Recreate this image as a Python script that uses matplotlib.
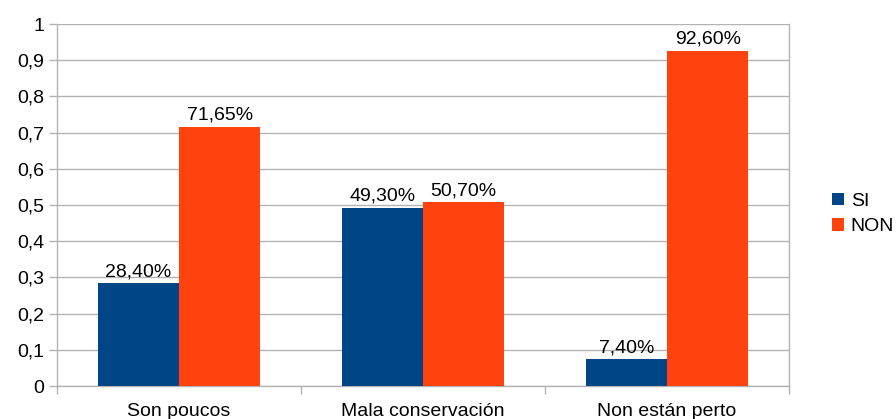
import numpy as np
import matplotlib
matplotlib.use('Agg')
import matplotlib.pyplot as plt
from matplotlib.ticker import FixedLocator

categories = ['Son poucos', 'Mala conservación', 'Non están perto']
si_values = [0.284, 0.493, 0.074]
non_values = [0.7165, 0.507, 0.926]
si_labels = ['28,40%', '49,30%', '7,40%']
non_labels = ['71,65%', '50,70%', '92,60%']
y_ticks = [0, 0.1, 0.2, 0.3, 0.4, 0.5, 0.6, 0.7, 0.8, 0.9, 1]

plt.rcParams['font.family'] = ['Liberation Sans', 'DejaVu Sans']
fs = 14

fig = plt.figure(figsize=(8.96, 4.19), dpi=100)
ax = fig.add_axes([57/896, 1-386/419, (789-57)/896, (386-24)/419])

x = np.arange(len(categories))
w = 1/3
b1 = ax.bar(x - w/2, si_values, w, color='#004586', label='SI', zorder=3)
b2 = ax.bar(x + w/2, non_values, w, color='#ff420e', label='NON', zorder=3)

# value labels above bars
for bars, labs in [(b1, si_labels), (b2, non_labels)]:
    for rect, lab in zip(bars, labs):
        ax.annotate(lab, (rect.get_x() + rect.get_width()/2, rect.get_height()),
                    xytext=(0, 5), textcoords='offset points',
                    ha='center', va='baseline', fontsize=fs, color='black')

ax.set_xlim(-0.5, 2.5)
ax.set_ylim(0, 1)
ax.set_yticks(y_ticks)
ax.set_yticklabels([('%g' % v).replace('.', ',') for v in y_ticks], fontsize=fs)
ax.yaxis.grid(True, color='#b3b3b3', linewidth=1, zorder=0)

ax.set_xticks(x)
ax.set_xticklabels(categories, fontsize=fs)
ax.tick_params(axis='x', which='major', length=0, pad=12)
ax.xaxis.set_minor_locator(FixedLocator([-0.5, 0.5, 1.5, 2.5]))
ax.tick_params(axis='x', which='minor', length=6, color='#b3b3b3', width=1)
ax.tick_params(axis='y', length=6, color='#b3b3b3', width=1, pad=3)

for s in ax.spines.values():
    s.set_color('#b3b3b3')
    s.set_linewidth(1)
ax.spines['top'].set_visible(False)

ax.legend(loc='center left', bbox_to_anchor=(1.059, 0.475), frameon=False,
          fontsize=fs, handlelength=0.6, handleheight=0.6, handletextpad=0.35,
          labelspacing=0.45, borderpad=0, borderaxespad=0)

fig.savefig('out.png', dpi=100)
